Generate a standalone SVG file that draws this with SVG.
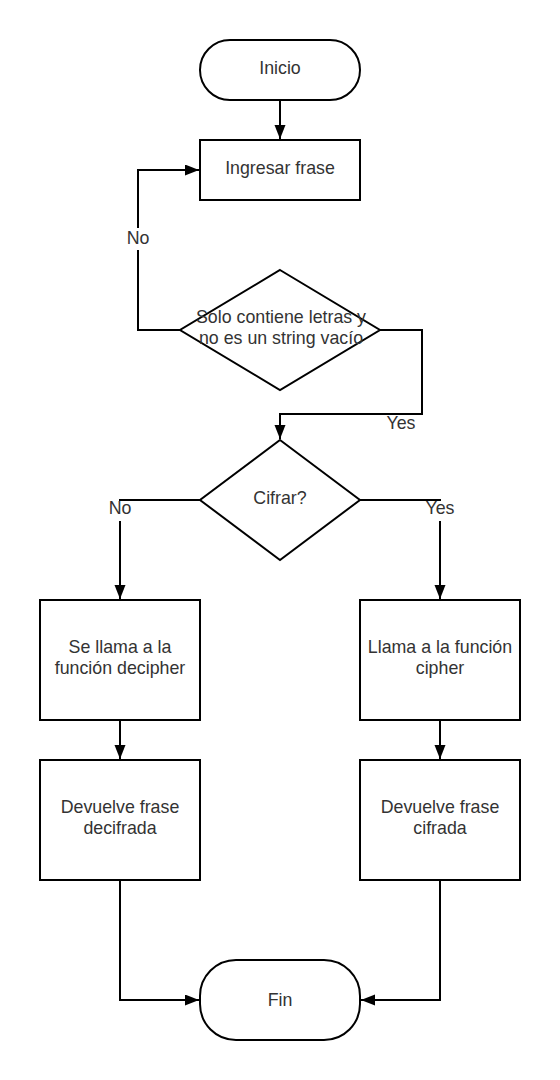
<svg xmlns="http://www.w3.org/2000/svg" width="560" height="1080" viewBox="0 0 560 1080">
<defs>
<style>
.shape{fill:#fff;stroke:#000;stroke-width:2}
.conn{fill:none;stroke:#000;stroke-width:2}
.t{font-family:"Liberation Sans",Arial,sans-serif;font-size:17.8px;fill:#333;text-anchor:middle}
.lbg{fill:#fff;stroke:none}
</style>
<marker id="arr" markerUnits="userSpaceOnUse" markerWidth="15" markerHeight="12" refX="14" refY="5.5" orient="auto">
<path d="M0,0 L14,5.5 L0,11 Z" fill="#000"/>
</marker>
</defs>
<rect width="560" height="1080" fill="#fff"/>
<g id="connectors">
<path class="conn" d="M280,100 V139" marker-end="url(#arr)"/>
<path class="conn" d="M180,330 H138 V170 H199" marker-end="url(#arr)"/>
<path class="conn" d="M380,330 H422 V414 H280 V439" marker-end="url(#arr)"/>
<path class="conn" d="M200,500 H120 V599" marker-end="url(#arr)"/>
<path class="conn" d="M360,500 H440 V599" marker-end="url(#arr)"/>
<path class="conn" d="M120,720 V759" marker-end="url(#arr)"/>
<path class="conn" d="M440,720 V759" marker-end="url(#arr)"/>
<path class="conn" d="M120,880 V1000 H199" marker-end="url(#arr)"/>
<path class="conn" d="M440,880 V1000 H361" marker-end="url(#arr)"/>
<rect class="lbg" x="126" y="228" width="24" height="22"/>
<text class="t" x="138" y="244">No</text>
<rect class="lbg" x="386" y="415" width="30" height="18"/>
<text class="t" x="401" y="429">Yes</text>
<rect class="lbg" x="108" y="501" width="24" height="20"/>
<text class="t" x="120" y="514">No</text>
<rect class="lbg" x="425" y="501" width="30" height="20"/>
<text class="t" x="440" y="514">Yes</text>
</g>
<g id="inicio">
<rect class="shape" x="200" y="40" width="160" height="60" rx="30" ry="30"/>
<text class="t" x="280" y="74">Inicio</text>
</g>
<g id="ingresar">
<rect class="shape" x="200" y="140" width="160" height="60"/>
<text class="t" x="280" y="174">Ingresar frase</text>
</g>
<g id="validar">
<path class="shape" d="M280,270 L380,330 L280,390 L180,330 Z"/>
<text class="t" x="281" y="323">Solo contiene letras y</text>
<text class="t" x="281" y="344">no es un string vacío</text>
</g>
<g id="cifrar">
<path class="shape" d="M280,440 L360,500 L280,560 L200,500 Z"/>
<text class="t" x="280" y="504">Cifrar?</text>
</g>
<g id="decipher">
<rect class="shape" x="40" y="600" width="160" height="120"/>
<text class="t" x="120" y="653">Se llama a la</text>
<text class="t" x="120" y="674">función decipher</text>
</g>
<g id="cipher">
<rect class="shape" x="360" y="600" width="160" height="120"/>
<text class="t" x="440" y="653">Llama a la función</text>
<text class="t" x="440" y="674">cipher</text>
</g>
<g id="devuelve-decifrada">
<rect class="shape" x="40" y="760" width="160" height="120"/>
<text class="t" x="120" y="813">Devuelve frase</text>
<text class="t" x="120" y="834">decifrada</text>
</g>
<g id="devuelve-cifrada">
<rect class="shape" x="360" y="760" width="160" height="120"/>
<text class="t" x="440" y="813">Devuelve frase</text>
<text class="t" x="440" y="834">cifrada</text>
</g>
<g id="fin">
<rect class="shape" x="200" y="960" width="160" height="80" rx="36" ry="36"/>
<text class="t" x="280" y="1006">Fin</text>
</g>
</svg>
